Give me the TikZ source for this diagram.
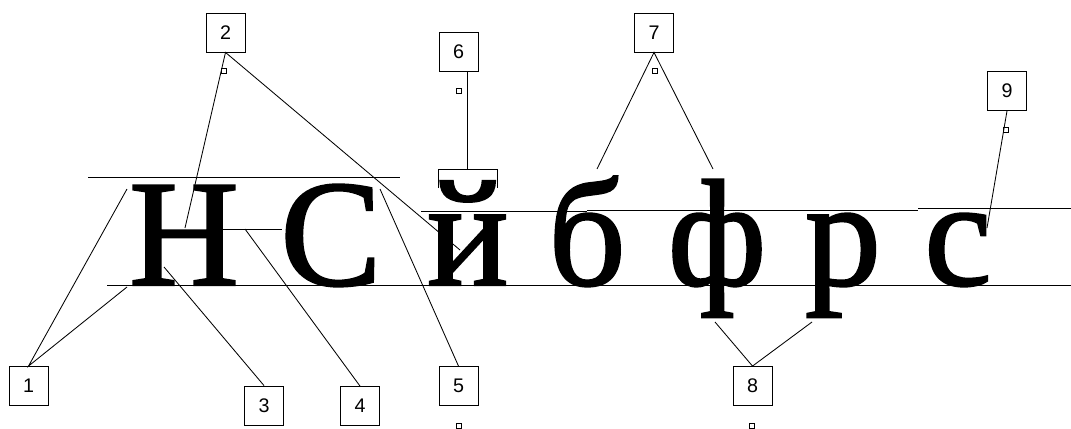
\documentclass[tikz,border=0pt]{standalone}
\usepackage{fontspec}
\newfontfamily\glyphfont[FakeBold=1.5]{Liberation Serif}
\newfontfamily\digitfont{Liberation Sans}
\begin{document}
\begin{tikzpicture}[x=0.025cm,y=-0.025cm,line width=0.6pt,
  numbox/.style={draw,minimum size=0.975cm,inner sep=0pt,font=\digitfont\fontsize{14}{14}\selectfont},
  handle/.style={draw,minimum size=0.14cm,inner sep=0pt,line width=0.5pt},
  glyph/.style={anchor=base,inner sep=0pt,font=\glyphfont\fontsize{108}{108}\selectfont}]
\useasboundingbox (0,0) rectangle (1071,428);

% guide lines
\draw (88,177) -- (400,177);
\draw (107,285) -- (1071,285);
\draw (421,211) -- (587,211);
\draw (587,210) -- (918,210);
\draw (918,208) -- (1071,208);
\draw (223,229) -- (282,229);
\draw (438,188) -- (438,169) -- (497,169) -- (497,188);
\coordinate (brk) at (467,169);

% letters
\node[glyph] (lH) at (184,285) {Н};
\node[glyph] (lC) at (331,285) {С};
\node[glyph] (ly) at (468,285) {й};
\node[glyph] (lb) at (587,285) {б};
\node[glyph] (lf) at (717,285) {ф};
\node[glyph] (lr) at (843,285) {р};
\node[glyph] (ls) at (958,285) {с};

% numbered boxes
\node[numbox] (b1) at (28.5,386) {1};
\node[numbox] (b2) at (225.5,32.5) {2};
\node[numbox] (b3) at (264,405.5) {3};
\node[numbox] (b4) at (360,406) {4};
\node[numbox] (b5) at (458.5,386) {5};
\node[numbox] (b6) at (458.5,52) {6};
\node[numbox] (b7) at (654,32.5) {7};
\node[numbox] (b8) at (752.5,386) {8};
\node[numbox] (b9) at (1007,91) {9};

% small handles
\node[handle] (h2) at (224,71) {};
\node[handle] (h6) at (459,91) {};
\node[handle] (h7) at (655,71) {};
\node[handle] (h9) at (1006,130) {};
\node[handle] (h5) at (459,426) {};
\node[handle] (h8) at (752,426) {};

% pointer ends
\coordinate (p1a) at (127,189);
\coordinate (p1b) at (127,287);
\coordinate (p2a) at (185,228);
\coordinate (p2b) at (460,250);
\coordinate (p3) at (164,267);
\coordinate (p4) at (245,229);
\coordinate (p5) at (380,189);
\coordinate (p7a) at (597,169);
\coordinate (p7b) at (713,169);
\coordinate (p8a) at (715,322);
\coordinate (p8b) at (812,322);
\coordinate (p9) at (987,228);

% pointers
\draw (p1a) -- (b1.north) -- (p1b);
\draw (p2a) -- (b2.south) -- (p2b);
\draw (b3.north) -- (p3);
\draw (b4.north) -- (p4);
\draw (b5.north) -- (p5);
\draw (b6.south -| brk) -- (brk);
\draw (p7a) -- (b7.south) -- (p7b);
\draw (p8a) -- (b8.north) -- (p8b);
\draw (b9.south) -- (p9);
\end{tikzpicture}
\end{document}
